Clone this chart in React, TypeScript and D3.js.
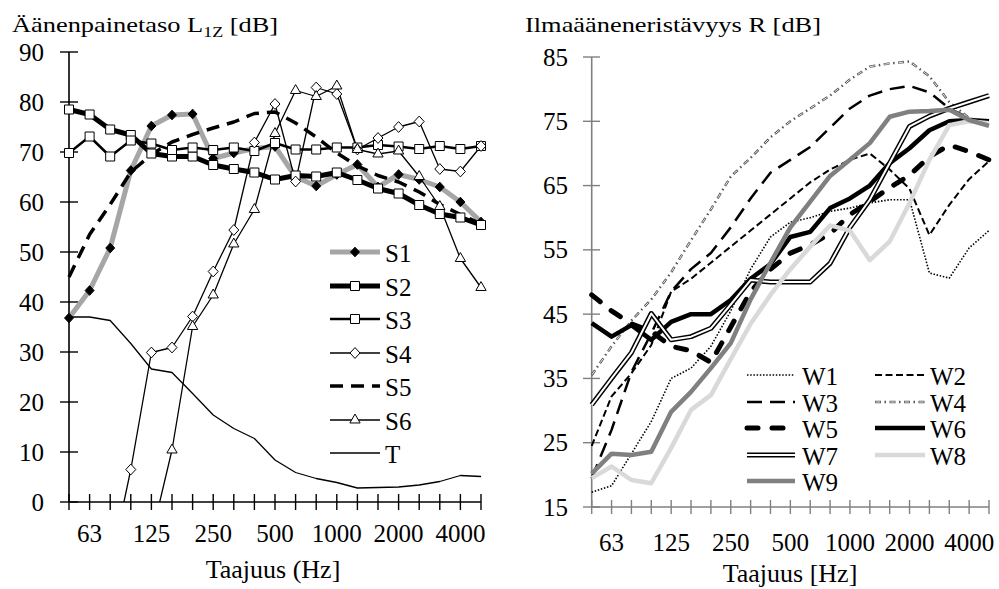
import React, { useEffect, useRef } from 'react';
import * as d3 from 'd3';

// third-octave bands (Hz), only some are labelled
const bands = ['50', '63', '80', '100', '125', '160', '200', '250', '315', '400', '500', '630', '800', '1000', '1250', '1600', '2000', '2500', '3150', '4000', '5000'];
const shownBands = ['63', '125', '250', '500', '1000', '2000', '4000'];

// left chart: sound pressure level L1Z [dB]
const s1 = [36.8, 42.3, 50.8, 66.3, 75.2, 77.4, 77.6, 68.7, 69.8, 70.7, 71.1, 65, 63.2, 65.5, 67.5, 63, 65.5, 64.5, 63, 60, 56];
const s2 = [78.5, 77.5, 74.5, 73.4, 69.7, 69.1, 69.1, 67.4, 66.6, 65.9, 64.5, 65.3, 65.1, 65.9, 64.4, 62.7, 61.7, 59.4, 57.6, 56.9, 55.4];
const s3 = [69.8, 73.1, 69.1, 72.3, 71.7, 70.4, 70.9, 70.4, 70.9, 70.2, 71.8, 70.5, 70.5, 70.9, 70.9, 71.4, 71.1, 70.6, 71.2, 70.6, 71.2];
const s4 = [null, null, -13, 6.5, 29.9, 30.9, 37.1, 46.1, 54.4, 71.9, 79.6, 64.1, 82.9, 81.6, 70.5, 72.8, 75, 76.1, 66.6, 66.1, 71.2];
const s5 = [45, 53.5, 59.5, 66, 69.5, 72, 73.5, 74.8, 76, 77.7, 78, 75.8, 73, 69.8, 67.2, 65.3, 64, 62, 59.5, 57.5, 55.6];
const s6 = [null, null, null, null, -7, 10.4, 35.1, 41.4, 51.6, 58.5, 73.7, 82.3, 81.1, 83.2, 70.5, 69.6, 70.2, 65.1, 59.1, 48.7, 42.9];
const tBg = [37, 37, 36.3, 31.7, 26.6, 25.9, 21.7, 17.4, 14.7, 12.7, 8.4, 5.9, 4.7, 3.9, 2.8, 2.9, 3.0, 3.4, 4.1, 5.3, 5.1];
const leftTicks = [0, 10, 20, 30, 40, 50, 60, 70, 80, 90];

// right chart: airborne sound insulation R [dB]
const w1 = [17.3, 18.3, 23.3, 28.3, 35, 36.6, 40, 45.5, 52, 57, 59.3, 60, 61, 61.5, 62.3, 62.8, 62.8, 51.4, 50.6, 55.3, 58];
const w2 = [24.5, 32.2, 35.8, 40.2, 48.5, 50.5, 53, 55.5, 58, 60.5, 63, 65.5, 67.5, 69, 70, 67.5, 64.5, 57.3, 62, 66, 68.8];
const w3 = [19.5, 27, 36, 42, 48.5, 52, 54.5, 58.5, 63, 67, 69, 71, 74, 77, 79, 80, 80.5, 79.5, 77, 75.5, 74.2];
const w4 = [35.5, 40, 44, 47.3, 51.5, 56.5, 61.3, 66.4, 69.3, 72.5, 75, 77, 79, 81.5, 83.5, 84, 84.3, 82, 78, 75.5, 74.5];
const w5 = [48, 45.5, 43.5, 42.3, 40, 39.3, 37.5, 43, 48.5, 52, 54.5, 55.8, 57.5, 60.5, 62.5, 64.7, 66.6, 69.5, 71.3, 70.3, 69];
const w6 = [43.6, 41.5, 43.3, 41, 43.8, 45, 45, 47.2, 50.5, 52.8, 57, 57.8, 61.5, 63, 65, 68.5, 70.8, 73.6, 75, 75.2, 75];
const w7 = [30.9, 35, 39, 45.1, 41, 41.5, 42.8, 46.5, 50.3, 50, 50, 50, 52.9, 58.5, 62.8, 68.5, 74.2, 75.8, 77, 78, 79];
const w8 = [19.5, 21.3, 19.2, 18.7, 24.2, 30.1, 32.4, 38, 43.5, 48, 52, 55.5, 58.8, 58, 53.4, 56.3, 62.3, 69, 74.4, 75, 74.7];
const w9 = [20.2, 23.3, 23.1, 23.6, 29.8, 32.9, 36.6, 40.5, 47.3, 53, 58.5, 62.5, 66.5, 69, 71.6, 75.7, 76.5, 76.6, 76.8, 75.2, 74.3];
const rightTicks = [15, 25, 35, 45, 55, 65, 75, 85];

const FONT = "'Liberation Serif', 'Times New Roman', serif";

// marker shapes
const diamondType = {
  draw(ctx: any, size: number) {
    const r = Math.sqrt(size / 2);
    ctx.moveTo(0, -r * 1.08);
    ctx.lineTo(r, 0);
    ctx.lineTo(0, r * 1.08);
    ctx.lineTo(-r, 0);
    ctx.closePath();
  },
};
const markerPath = (kind: string) => {
  if (kind === 'square') return d3.symbol().type(d3.symbolSquare).size(81)();
  if (kind === 'triangle') return d3.symbol().type(d3.symbolTriangle).size(46)();
  return d3.symbol().type(diamondType as any).size(kind === 'blackDiamond' ? 40 : 50)();
};

type Style = {
  name: string;
  values: (number | null)[];
  color: string;
  width: number;
  dash?: string;
  cap?: string;
  marker?: string;
  kind?: string;
};

const leftSeries: Style[] = [
  { name: 'S1', values: s1, color: '#a6a6a6', width: 5, marker: 'blackDiamond' },
  { name: 'S2', values: s2, color: '#000', width: 5, marker: 'square' },
  { name: 'S3', values: s3, color: '#000', width: 2.5, marker: 'square' },
  { name: 'S4', values: s4, color: '#000', width: 1.3, marker: 'diamond' },
  { name: 'S5', values: s5, color: '#000', width: 3.5, dash: '13 8' },
  { name: 'S6', values: s6, color: '#000', width: 1.3, marker: 'triangle' },
  { name: 'T', values: tBg, color: '#000', width: 1.3 },
];

const rightSeries: Style[] = [
  { name: 'W1', values: w1, color: '#000', width: 1.6, dash: '1.5 1.7' },
  { name: 'W2', values: w2, color: '#000', width: 2, dash: '7 3.5' },
  { name: 'W3', values: w3, color: '#000', width: 2.5, dash: '15 8' },
  { name: 'W4', values: w4, color: '#555', width: 2.4, kind: 'dashdot' },
  { name: 'W5', values: w5, color: '#000', width: 5, dash: '11 14', cap: 'round' },
  { name: 'W6', values: w6, color: '#000', width: 4.5 },
  { name: 'W7', values: w7, color: '#000', width: 5, kind: 'double' },
  { name: 'W8', values: w8, color: '#d9d9d9', width: 4.5 },
  { name: 'W9', values: w9, color: '#808080', width: 4.5 },
];

const strokeSeries = (g: any, d: string, s: Style) => {
  if (s.kind === 'double') {
    g.append('path').attr('d', d).attr('fill', 'none').attr('stroke', '#000').attr('stroke-width', 5).attr('stroke-linejoin', 'round');
    g.append('path').attr('d', d).attr('fill', 'none').attr('stroke', '#fff').attr('stroke-width', 2).attr('stroke-linejoin', 'round');
    return;
  }
  if (s.kind === 'dashdot') {
    g.append('path').attr('d', d).attr('fill', 'none').attr('stroke', s.color).attr('stroke-width', s.width).attr('stroke-dasharray', '6 3.5 1.5 3.5');
    g.append('path').attr('d', d).attr('fill', 'none').attr('stroke', '#fff').attr('stroke-width', 0.9).attr('stroke-dasharray', '4.6 9.9').attr('stroke-dashoffset', -0.7);
    return;
  }
  g.append('path')
    .attr('d', d)
    .attr('fill', 'none')
    .attr('stroke', s.color)
    .attr('stroke-width', s.width)
    .attr('stroke-linejoin', 'round')
    .attr('stroke-linecap', s.cap || 'butt')
    .attr('stroke-dasharray', s.dash || null);
};

const drawMarker = (g: any, x: number, y: number, kind: string) => {
  g.append('path')
    .attr('d', markerPath(kind))
    .attr('transform', `translate(${x},${y})`)
    .attr('fill', kind === 'blackDiamond' ? '#000' : '#fff')
    .attr('stroke', '#000')
    .attr('stroke-width', 1);
};

const addText = (g: any, x: number, y: number, str: string, size: number, anchor = 'start', baseline = 'auto') =>
  g.append('text')
    .attr('x', x)
    .attr('y', y)
    .attr('font-family', FONT)
    .attr('font-size', size)
    .attr('text-anchor', anchor)
    .attr('dominant-baseline', baseline)
    .attr('fill', '#000')
    .text(str);

const drawLeft = (root: any) => {
  const x = d3.scalePoint<string>().domain(bands).range([69, 481]);
  const y = d3.scaleLinear().domain([0, 90]).range([502, 52]);
  const axisCol = '#000';

  // title with subscript
  const title = root.append('text')
    .attr('transform', 'translate(12,32) scale(1.2,1)')
    .attr('font-family', FONT)
    .attr('font-size', 22);
  title.append('tspan').text('Äänenpainetaso L');
  title.append('tspan').attr('font-size', 15).attr('dy', 5).text('1Z');
  title.append('tspan').attr('dy', -5).text(' [dB]');

  // axes
  root.append('line').attr('x1', 69).attr('x2', 69).attr('y1', y(90)).attr('y2', y(0)).attr('stroke', axisCol).attr('stroke-width', 1.6);
  root.append('line').attr('x1', x(bands[0])).attr('x2', x(bands[20])).attr('y1', y(0)).attr('y2', y(0)).attr('stroke', axisCol).attr('stroke-width', 1.6);
  leftTicks.forEach(t => {
    root.append('line').attr('x1', 60).attr('x2', 78).attr('y1', y(t)).attr('y2', y(t)).attr('stroke', axisCol).attr('stroke-width', 1.4);
    addText(root, 44, y(t), String(t), 25, 'end', 'central');
  });
  bands.forEach(b => {
    root.append('line').attr('x1', x(b)).attr('x2', x(b)).attr('y1', y(0) - 8).attr('y2', y(0) + 8).attr('stroke', axisCol).attr('stroke-width', 1.4);
  });
  shownBands.forEach(b => addText(root, x(b)!, 533, b, 25, 'middle', 'central'));
  addText(root, 273, 578, 'Taajuus (Hz]', 26, 'middle');

  // series
  root.append('clipPath').attr('id', 'leftClip').append('rect').attr('x', 60).attr('y', 52).attr('width', 440).attr('height', 450);
  const plot = root.append('g').attr('clip-path', 'url(#leftClip)');
  const line = d3.line<number | null>()
    .defined(v => v !== null)
    .x((_, i) => x(bands[i])!)
    .y(v => y(v as number));
  leftSeries.forEach(s => {
    strokeSeries(plot, line(s.values)!, s);
    if (s.marker) {
      s.values.forEach((v, i) => {
        if (v !== null && v >= 0) drawMarker(root, x(bands[i])!, y(v), s.marker!);
      });
    }
  });

  // legend
  const rows = [252, 286, 319, 353, 386, 420, 453];
  leftSeries.forEach((s, i) => {
    const ly = rows[i];
    strokeSeries(root, `M330,${ly}L380,${ly}`, s);
    if (s.marker) drawMarker(root, 355, ly, s.marker);
    addText(root, 385, ly + 1, s.name, 25, 'start', 'central');
  });
};

const drawRight = (root: any) => {
  const x = d3.scalePoint<string>().domain(bands).range([591.7, 989]);
  const y = d3.scaleLinear().domain([15, 85]).range([507, 57]);
  const axisCol = '#808080';

  root.append('text')
    .attr('transform', 'translate(525,32) scale(1.2,1)')
    .attr('font-family', FONT)
    .attr('font-size', 22)
    .text('Ilmaääneneristävyys R [dB]');

  root.append('line').attr('x1', 591.7).attr('x2', 591.7).attr('y1', y(85)).attr('y2', y(15)).attr('stroke', axisCol).attr('stroke-width', 1.6);
  root.append('line').attr('x1', x(bands[0])).attr('x2', x(bands[20])).attr('y1', y(15)).attr('y2', y(15)).attr('stroke', axisCol).attr('stroke-width', 1.6);
  rightTicks.forEach(t => {
    root.append('line').attr('x1', 583).attr('x2', 600).attr('y1', y(t)).attr('y2', y(t)).attr('stroke', axisCol).attr('stroke-width', 1.4);
    addText(root, 568, y(t), String(t), 25, 'end', 'central');
  });
  bands.forEach(b => {
    root.append('line').attr('x1', x(b)).attr('x2', x(b)).attr('y1', y(15) - 7).attr('y2', y(15) + 7).attr('stroke', axisCol).attr('stroke-width', 1.4);
  });
  shownBands.forEach(b => addText(root, x(b)!, 542, b, 25, 'middle', 'central'));
  addText(root, 790, 582, 'Taajuus [Hz]', 26, 'middle');

  const line = d3.line<number>()
    .x((_, i) => x(bands[i])!)
    .y(v => y(v));
  rightSeries.forEach(s => strokeSeries(root, line(s.values as number[])!, s));

  // legend in two columns
  const rows = [375, 402, 428, 455, 481];
  rightSeries.forEach((s, i) => {
    const col = i % 2;
    const ly = rows[Math.floor(i / 2)];
    const x1 = col === 0 ? 747 : 875;
    const x2 = col === 0 ? 795 : 925;
    strokeSeries(root, `M${x1},${ly}L${x2},${ly}`, s);
    addText(root, col === 0 ? 802 : 930, ly + 1, s.name, 25, 'start', 'central');
  });
};

const App = () => {
  const svgRef = useRef<SVGSVGElement>(null);

  useEffect(() => {
    const svg = d3.select(svgRef.current);
    svg.selectAll('*').remove();
    drawLeft(svg.append('g'));
    drawRight(svg.append('g'));
  }, []);

  return (
    <svg
      ref={svgRef}
      width={999}
      height={589}
      style={{ position: 'absolute', left: 0, top: 0, background: '#fff' }}
    />
  );
};

export default App;
